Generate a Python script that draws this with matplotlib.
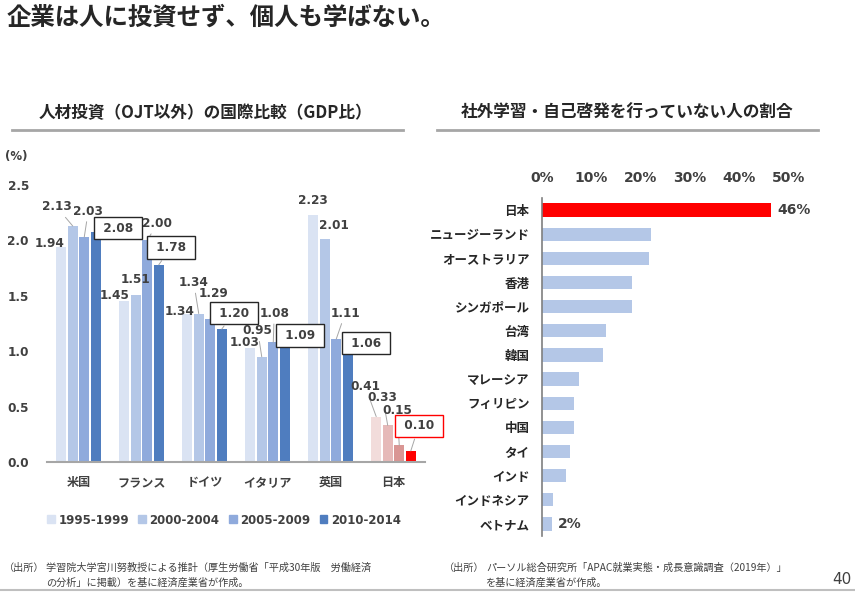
import matplotlib
matplotlib.use("Agg")
import matplotlib.pyplot as plt
from matplotlib.patches import Patch
from matplotlib.lines import Line2D

plt.rcParams['font.family'] = ['DejaVu Sans', 'Noto Sans CJK JP']

# left chart data: investment in people (excl. OJT), % of GDP
countries_left = ['米国', 'フランス', 'ドイツ', 'イタリア', '英国', '日本']
periods = ['1995-1999', '2000-2004', '2005-2009', '2010-2014']
inv_1995 = [1.94, 1.45, 1.34, 1.03, 2.23, 0.41]
inv_2000 = [2.13, 1.51, 1.34, 0.95, 2.01, 0.33]
inv_2005 = [2.03, 2.00, 1.29, 1.08, 1.11, 0.15]
inv_2010 = [2.08, 1.78, 1.20, 1.09, 1.06, 0.10]

# right chart data: share of people not doing self study (%)
countries_right = ['日本', 'ニュージーランド', 'オーストラリア', '香港', 'シンガポール', '台湾',
                   '韓国', 'マレーシア', 'フィリピン', '中国', 'タイ', 'インド', 'インドネシア', 'ベトナム']
no_study = [46.4, 22.1, 21.6, 18.3, 18.3, 13.0, 12.3, 7.4, 6.5, 6.4, 5.7, 4.9, 2.3, 2.0]
right_labels = {'日本': '46%', 'ベトナム': '2%'}

TXT = '#404040'
W, H = 855, 592

def frac(l, t, r, b):
    return [l / W, 1 - b / H, (r - l) / W, (b - t) / H]

fig = plt.figure(figsize=(W / 100, H / 100), dpi=100)

# titles
fig.text(7 / W, 1 - 18 / H, '企業は人に投資せず、個人も学ばない。', fontsize=17.6, fontweight='bold',
         color='#262626', va='center', ha='left', family='Noto Sans CJK JP')
fig.text(205 / W, 1 - 113 / H, '人材投資（OJT以外）の国際比較（GDP比）', fontsize=12, fontweight='bold',
         color='#262626', va='center', ha='center', family='Noto Sans CJK JP')
fig.text(627 / W, 1 - 113 / H, '社外学習・自己啓発を行っていない人の割合', fontsize=12, fontweight='bold',
         color='#262626', va='center', ha='center', family='Noto Sans CJK JP')
for x0, x1 in [(12, 403), (437, 818)]:
    fig.add_artist(Line2D([x0 / W, x1 / W], [1 - 130 / H] * 2, color='#a6a6a6', lw=2))

# ---- left chart
ax = fig.add_axes(frac(47, 185, 425, 462))
series = [inv_1995, inv_2000, inv_2005, inv_2010]
blues = ['#DAE3F3', '#B4C7E7', '#8FAADC', '#4F7DBF']
reds = ['#F2DCDB', '#E6B9B8', '#D99694', '#FF0000']
step = 0.183
bw = 0.16
xs = list(range(len(countries_left)))

# label offsets in pixels from bar top: (dx, dy, leader, box)
offs = [
    [(-12, 4, 0, 0), (-10, 6, 0, 0), (-8, 2.5, 0, 0), (-6, 5, 0, 0), (0, 14, 0, 0), (-11, 30, 1, 0)],
    [(-16, 19, 1, 0), (0, 15, 0, 0), (-5, 31, 1, 0), (-4, 26, 1, 0), (9, 14, 0, 0), (-5, 28, 1, 0)],
    [(4, 26, 1, 0), (10, 17, 1, 0), (3, 26, 1, 0), (1, 29, 1, 0), (9, 26, 1, 0), (-2, 35, 1, 0)],
    [(22, 3.5, 0, 1), (12, 17, 1, 1), (12, 16, 1, 1), (15, 6, 0, 1), (18, 1.5, 0, 1), (8, 25, 1, 2)],
]

for k, vals in enumerate(series):
    pos = [x + (k - 1.5) * step for x in xs]
    cols = [blues[k]] * (len(xs) - 1) + [reds[k]]
    ax.bar(pos, vals, width=bw, color=cols, zorder=2)
    for i, (p, v) in enumerate(zip(pos, vals)):
        dx, dy, lead, box = offs[k][i]
        kw = {}
        label = '%.2f' % v
        if lead:
            kw['arrowprops'] = dict(arrowstyle='-', color='#a6a6a6', lw=0.7, shrinkA=1, shrinkB=0)
        if box:
            label = ' ' + label + ' '
            kw['bbox'] = dict(boxstyle='square,pad=0.4', fc='white',
                              ec='#FF0000' if box == 2 else '#262626', lw=1)
        ax.annotate(label, (p, v), xytext=(dx, dy), textcoords='offset pixels',
                    ha='center', va='center', fontsize=8.7, fontweight='bold', color=TXT,
                    zorder=5, annotation_clip=False, **kw)

ax.set_xlim(-0.5, len(xs) - 0.5)
ax.set_ylim(0, 2.5)
ax.set_yticks([0, 0.5, 1.0, 1.5, 2.0, 2.5])
ax.set_yticklabels(['%.1f' % t for t in [0, 0.5, 1.0, 1.5, 2.0, 2.5]])
ax.set_xticks(xs)
ax.set_xticklabels(countries_left, family='Noto Sans CJK JP')
ax.tick_params(axis='y', length=0, pad=13, labelsize=8.7, labelcolor=TXT)
ax.tick_params(axis='x', length=0, pad=10, labelsize=8.7, labelcolor=TXT)
for t in ax.get_xticklabels() + ax.get_yticklabels():
    t.set_fontweight('bold')
for s in ['top', 'right', 'left']:
    ax.spines[s].set_visible(False)
ax.spines['bottom'].set_color('#a6a6a6')
ax.spines['bottom'].set_linewidth(1.5)
ax.spines['bottom'].set_zorder(3)
fig.text(5 / W, 1 - 157 / H, '(%)', fontsize=8.5, fontweight='bold', color=TXT, va='center')

handles = [Patch(color=c) for c in blues]
fig.legend(handles, periods, loc='center', bbox_to_anchor=(224 / W, 1 - 520 / H), ncol=4,
           frameon=False, handlelength=0.65, handleheight=0.65, handletextpad=0.3,
           columnspacing=0.8, prop={'size': 8.5, 'weight': 'bold'}, labelcolor=TXT)

# ---- right chart
ax2 = fig.add_axes(frac(542, 198, 838, 536))
ys = list(range(len(countries_right)))
cols2 = ['#FF0000'] + ['#B4C7E7'] * (len(ys) - 1)
ax2.barh(ys, no_study, height=0.55, color=cols2, zorder=2)
for y, name, v in zip(ys, countries_right, no_study):
    if name in right_labels:
        ax2.annotate(right_labels[name], (v, y), xytext=(6, 0), textcoords='offset pixels',
                     ha='left', va='center', fontsize=10, fontweight='bold', color=TXT)
ax2.set_ylim(len(ys) - 0.5, -0.5)
ax2.set_xlim(0, 60)
ax2.set_yticks(ys)
ax2.set_yticklabels(countries_right, family='Noto Sans CJK JP')
ax2.set_xticks([0, 10, 20, 30, 40, 50])
ax2.set_xticklabels(['%d%%' % t for t in [0, 10, 20, 30, 40, 50]])
ax2.xaxis.tick_top()
ax2.tick_params(axis='x', length=0, pad=9, labelsize=10, labelcolor=TXT)
ax2.tick_params(axis='y', length=0, pad=9, labelsize=9, labelcolor='#262626')
for t in ax2.get_xticklabels() + ax2.get_yticklabels():
    t.set_fontweight('bold')
for s in ['top', 'right', 'bottom']:
    ax2.spines[s].set_visible(False)
ax2.spines['left'].set_color('#7f7f7f')
ax2.spines['left'].set_linewidth(1.2)
ax2.spines['left'].set_zorder(3)

# ---- footnotes
fn = dict(fontsize=7.3, color=TXT, va='center', ha='left', family='Noto Sans CJK JP')
fig.text(4 / W, 1 - 568 / H, '（出所）', **fn)
fig.text(46 / W, 1 - 568 / H, '学習院大学宮川努教授による推計（厚生労働省「平成30年版　労働経済', **fn)
fig.text(46 / W, 1 - 583 / H, 'の分析」に掲載）を基に経済産業省が作成。', **fn)
fig.text(444 / W, 1 - 568 / H, '（出所）', **fn)
fig.text(486 / W, 1 - 568 / H, 'パーソル総合研究所「APAC就業実態・成長意識調査（2019年）」', **fn)
fig.text(486 / W, 1 - 583 / H, 'を基に経済産業省が作成。', **fn)
fig.text(851 / W, 1 - 580 / H, '40', fontsize=11, color=TXT, va='center', ha='right')
fig.add_artist(Line2D([0, 1], [1 - 590 / H] * 2, color='#bfbfbf', lw=1.5))

fig.savefig('out.png', dpi=100)
